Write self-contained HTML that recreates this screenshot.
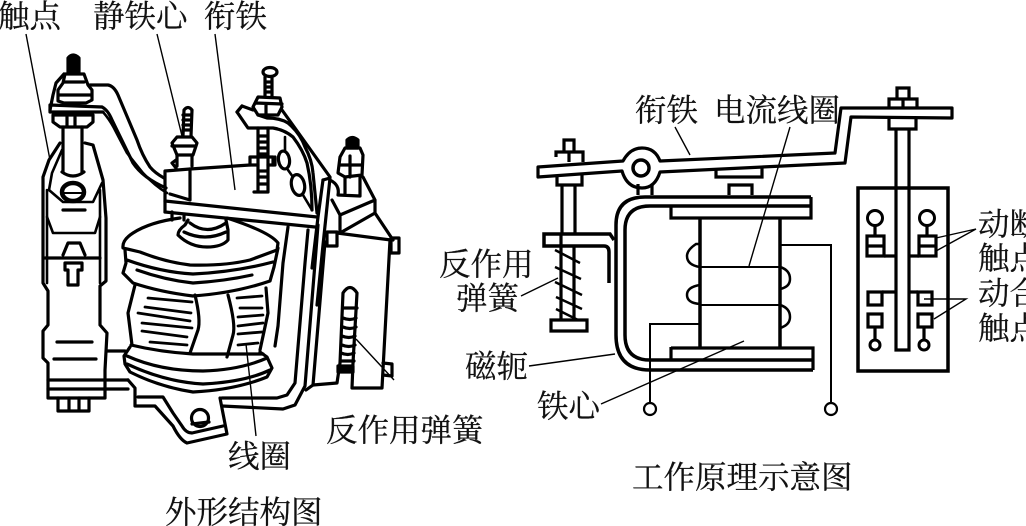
<!DOCTYPE html>
<html><head><meta charset="utf-8"><style>
html,body{margin:0;padding:0;background:#fff;width:1026px;height:526px;overflow:hidden}
svg{display:block}
text{font-family:"Liberation Serif","Noto Serif CJK SC",serif;font-size:31.5px;fill:#111;stroke:#111;stroke-width:.25}
.t{fill:none;stroke:#000;stroke-width:3.2;stroke-linejoin:round;stroke-linecap:round}
.m{fill:none;stroke:#000;stroke-width:3.2}
.n{fill:none;stroke:#000;stroke-width:1.4}
</style></head><body>
<svg width="1026" height="526" viewBox="0 0 1026 526" xmlns="http://www.w3.org/2000/svg">
<rect width="1026" height="526" fill="#fff"/>
<!-- LEFT FIGURE -->
<g class="t">
<!-- bracket -->
<path d="M60,143 L49,160 L43,177 V283 L48,291 V325 L43,331 V358 L48,363 V398 H105 V370 L107,333 L100,325 V286 L106,281 V218 L103,180 L93,145 L85,143"/>
<path d="M62,150 L52,173 L49,190 L63,202 H93 L102,183 M47,190 V283 M100,190 V283" stroke-width="2.6"/>
<path d="M48,380 H105 M48,389 H128 M107,380 H128 M107,351 H125"/>
<path d="M58,398 V411 H89 V398 M69,398 V411 M79,398 V411"/>
<path d="M57,342 H92 M54,359 H96 M63,210 H85"/>
<ellipse cx="73" cy="192" rx="11" ry="9" stroke-width="4.5"/>
<path d="M63,193 H84" stroke-width="2"/>
<path d="M62,172 Q73,180 84,172"/>
<path d="M63,127 V172 M82,127 V172"/>
<path d="M47,217 L53,233 H95 L100,217" stroke-width="2.6"/>
<path d="M63,255 L68,243 H80 L85,255 M45,258 H100"/>
<path d="M65,263 H82 V270 H78 V285 H68 V270 H65Z"/>
<!-- top screw -->
<path d="M68,73 V58 Q73,52 79,58 V73Z" fill="#000"/>
<path d="M65,74 H84 L88,85 L92,90 V100 L86,103 H64 L58,101 V90 L63,83Z M58,95 H92"/>
<path d="M64,74 L56,83 L53,95 L50,110 M65,82 H84"/>
<path d="M50,105 L102,107 M50,105 V112 L103,112"/>
<path d="M53,115 L93,115 V122 L87,127 H60 L53,122Z M67,117 V127 M75,117 V127"/>
<!-- strap -->
<path d="M90,85 H108 Q114,86 118,95 L137,140 Q142,155 150,167 Q155,173 164,178"/>
<path d="M102,107 Q108,110 112,120 L133,163 Q143,178 166,188"/>
<path d="M103,112 Q110,120 115,130 L127,153 L143,173 Q155,186 167,193" stroke-width="2.6"/>
<!-- armature plate -->
<path d="M165,212 V171 L190,169 L250,165 V157 H273 V165"/>
<path d="M190,169 V200 L170,194"/>
<path d="M165,201 L317,217 M165,212 L315,227 M172,212 V220 M184,214 V220"/>
<!-- small screw -->
<path d="M183,136 L184,110 Q188,105 192,110 L191,136 M183,115 H191 M183,120 H191 M183,125 H191 M183,130 H191"/>
<path d="M177,137 H192 L197,143 L193,155 H177 L172,143Z M172,146 H196"/>
<path d="M177,155 V166 M192,155 V166 M176,160 L172,163 L176,168"/>
<!-- right screw / bracket -->
<ellipse cx="270" cy="72" rx="7" ry="4.5"/>
<path d="M265,77 L265,97 M272,77 V97 M265,82 H272 M265,87 H272 M265,92 H272"/>
<path d="M258,97 L280,98 L282,107 L278,115 H258 L253,107Z M256,103 L282,104 M266,104 V115"/>
<path d="M253,110 L242,106 L237,112 L248,128 H273 Q285,130 293,137 Q303,150 307,163 Q312,185 312,210"/>
<path d="M242,106 L237,112 M258,115 L267,118 Q280,118 288,123 Q300,133 305,147 Q312,160 313,173 L317,213"/>
<path d="M282,110 L330,177"/>
<path d="M258,128 V192 M268,128 V192 M254,192 H268 M258,136 H268 M258,142 H268 M258,148 H268 M258,154 H268 M258,171 H268 M258,177 H268 M258,184 H268"/>
<path d="M250,165 H258 M268,165 H275 V157" />
<ellipse cx="284" cy="160" rx="5.5" ry="9" transform="rotate(-8 284 160)"/>
<ellipse cx="298" cy="185" rx="6.5" ry="10.5" transform="rotate(-12 298 185)"/>
<path d="M285,137 V150 M288,170 L293,177 M303,195 L312,210" stroke-width="2.6"/>
<!-- vertical side plates -->
<path d="M323,180 L330,178 L323,245 L317,305"/>
<path d="M323,180 L318,217 L312,268"/>
<path d="M288,227 L283,263 L278,326 L275,346"/>
<path d="M308,230 L305,263 L295,383 L287,395 L277,398 H222"/>
<path d="M318,225 L315,263 L305,386 L295,405 L283,409 L222,406"/>
<path d="M325,242 L313,385 L306,390"/>
<!-- right housing -->
<path d="M347,148 V140 Q352,135 358,140 V148Z" fill="#000"/>
<path d="M345,148 H360 L363,155 L362,175 L345,177 L338,173 L340,157Z M339,165 H362 M350,156 V177"/>
<path d="M345,177 V195 M360,177 L360,196 M338,195 L360,196 M330,180 Q340,185 338,195"/>
<path d="M363,177 L375,200 V213 L393,240 M375,200 L340,215 V233 L375,213 M332,200 L340,215"/>
<path d="M327,232 H337 V246 H327Z M337,233 L391,240 M391,238 H399 V253 H391Z"/>
<path d="M390,240 L382,388 H352 L353,363 L357,293 Q350,282 343,293 L340,363 L337,383 L313,385"/>
<path d="M338,366 H353 V372 H338Z" fill="#000"/>
<path d="M383,363 L392,364 V376 L383,375"/>
<path d="M344,308 H357 M343,318 Q350,321 356,318 M343,327 Q350,330 356,327 M342,336 Q349,339 355,336 M342,345 Q349,348 355,345 M341,353 Q348,356 354,353 M341,361 H354"/>
<!-- coil -->
<path d="M180,218 Q150,222 133,233 Q122,240 123,248 L140,252 Q165,262 190,265 Q225,266 250,260 L277,250 L278,243 Q270,232 227,218"/>
<path d="M188,220 L185,225 Q178,230 178,235 Q190,247 207,247 Q222,247 228,240 V230 L226,220 M190,223 Q207,236 226,223 M184,232 Q205,242 226,232"/>
<path d="M125,250 L126,263 L123,273 L133,283 Q160,292 193,296 Q235,293 270,281 L274,267 L278,248"/>
<path d="M127,260 Q160,272 193,274 Q235,272 273,262 M137,270 Q165,280 193,283 Q225,281 252,275"/>
<path d="M135,285 L128,313 L132,345 M266,288 L268,313 L260,350"/>
<path d="M131,345 Q160,352 193,354 H263"/>
<path d="M195,295 Q201,320 198,330 L190,353 M228,295 Q236,325 233,335 L227,357"/>
<path d="M148,298 L192,302 M145,307 L191,313 M138,313 L190,321 M142,323 L192,328 M142,331 L187,337 M150,342 L187,345" stroke-width="2.8"/>
<path d="M237,298 L262,296 M240,308 H262 M238,317 L263,315 M238,326 L263,323 M238,334 L262,332 M238,345 L258,343" stroke-width="2.8"/>
<path d="M130,347 L124,356 L125,364 L130,372 Q160,387 193,392 Q235,390 267,377 L272,368 L267,357 L260,352"/>
<path d="M127,356 Q160,371 203,371 Q240,370 267,358 M127,364 Q165,382 203,384 Q245,382 270,370"/>
<!-- base -->
<path d="M128,380 L135,388 V406 H155 L173,426 Q180,440 187,443 L227,434 L220,398"/>
<path d="M138,397 H163 L173,413 L182,426 Q186,433 192,433 L223,426"/>
<circle cx="200" cy="418" r="8.5"/>
<path d="M192,424 L209,422"/>
</g>
<g class="n">
<path d="M26,34 L50,160 M157,34 L182,136 M215,34 L235,190 M356,339 L394,380 M246,344 L256,436"/>
</g>
<text x="-2" y="27">触点</text>
<text x="93" y="27">静铁心</text>
<text x="204" y="27">衔铁</text>
<text x="326" y="441">反作用弹簧</text>
<text x="228" y="467">线圈</text>
<text x="165" y="523">外形结构图</text>

<!-- RIGHT FIGURE -->
<g class="m">
<path d="M538,167 L623,161 Q630,148 642,148 Q655,148 660,161 L835,153 L841,108 H952 V118 L851,117 L845,163 L660,172 Q655,188 642,188 Q627,188 622,171 L538,177Z" stroke-linejoin="round"/>
<circle cx="641" cy="168" r="8" stroke-width="3.5"/>
<path d="M556,157 V152 H583 V162 M564,152 V140 H574 V152 M569,152 V162"/>
<path d="M557,176 V185 H582 V175 M562,185 V233 M575,185 V233"/>
<path d="M638,184 V195 M652,184 V195"/>
<path d="M716,168 V177 H762 V167"/>
<path d="M729,195 V185 H752 V195"/>
<!-- yoke -->
<path d="M811,197 H645 Q616,197 616,225 V335 Q616,370 650,370 H813" stroke-width="3.5"/>
<path d="M811,206 H650 Q625,206 625,230 V335 Q625,360 650,360 H813" stroke-width="3.5"/>
<path d="M671,206 V218 H811 V197 M671,347 V360 M671,348 H813 V370"/>
<path d="M700,218 V348 M780,218 V348" stroke-width="3.5"/>
<!-- spring frame -->
<path d="M614,240 L610,234 H544 V246 H604 Q609,246 609,252 V283" stroke-width="3.5"/>
<path d="M561,234 V320 M574,246 V320"/>
<path d="M551,320 H587 V331 H551Z"/>
<path d="M555,250 L580,263 M555,267 L581,279 M555,282 L582,295 M556,297 L582,309 M556,309 L578,320" stroke-width="2.5"/>
<!-- coil wires -->
<path d="M700,244 H696 Q687,250 687,256 Q687,265 700,267 M700,285 Q687,287 687,295 Q687,303 700,304 M780,267 Q790,270 790,279 Q790,287 780,289 M780,305 Q790,308 790,317 Q790,325 780,328" stroke-width="2.5"/>
<path d="M700,267 H780 M700,305 H780" stroke-width="2"/>
<path d="M780,245 H831 V404 M700,324 H650 V404" stroke-width="2"/>
<circle cx="650" cy="409" r="6" stroke-width="2.2"/>
<circle cx="831" cy="409" r="6" stroke-width="2.2"/>
<!-- stem and box -->
<path d="M889,108 V99 H917 V107 M897,99 V88 H909 V99 M903,99 V107"/>
<path d="M889,119 V129 H916 V119"/>
<path d="M896,129 V350 H909 V129"/>
<rect x="858" y="188" width="90" height="183" stroke-width="3.5"/>
<circle cx="875" cy="218" r="7.5" stroke-width="3"/>
<circle cx="927" cy="218" r="7.5" stroke-width="3"/>
<path d="M875,226 V236 M927,226 V236"/>
<rect x="867" y="236" width="17" height="20"/>
<rect x="919" y="236" width="17" height="20"/>
<path d="M867,246 H884 M919,246 H936 M884,256 H896 M909,256 H919"/>
<rect x="868" y="292" width="14" height="13"/>
<rect x="918" y="292" width="14" height="13"/>
<path d="M882,292 H896 M909,292 H918"/>
<rect x="868" y="314" width="14" height="13"/>
<rect x="918" y="314" width="14" height="13"/>
<path d="M875,327 V340 M924,327 V340"/>
<circle cx="875" cy="345" r="5" stroke-width="3"/>
<circle cx="924" cy="345" r="5" stroke-width="3"/>
</g>
<g class="n">
<path d="M675,127 L690,155 M790,127 L749,266 M521,296 L558,278 M529,366 L615,354 M601,404 L744,341"/>
<path d="M936,238 L976,229 L936,251 M924,299 H966 L934,319"/>
</g>
<text x="635" y="121">衔铁</text>
<text x="714" y="121">电流线圈</text>
<text x="439" y="275">反作用</text>
<text x="456" y="309">弹簧</text>
<text x="465" y="377">磁轭</text>
<text x="537" y="417">铁心</text>
<text x="632" y="488">工作原理示意图</text>
<text x="978" y="235">动断</text>
<text x="978" y="269">触点</text>
<text x="978" y="304">动合</text>
<text x="978" y="339">触点</text>
</svg>
</body></html>
